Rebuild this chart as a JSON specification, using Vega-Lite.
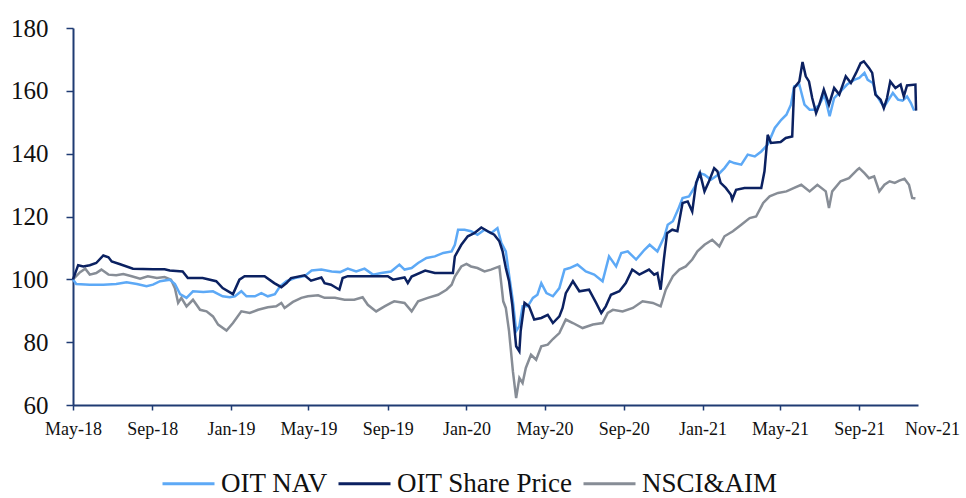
{
"$schema": "https://vega.github.io/schema/vega-lite/v6.json",
"width": 845, "height": 377,
"autosize": {"type": "none"},
"padding": {"left": 73, "top": 28, "right": 48, "bottom": 93},
"background": "white",
"config": {"view": {"stroke": null}, "font": "Liberation Serif"},
"data": {"values": [
{"series":"NSCI&AIM","date":"2018-05-01","value":100.0},{"series":"NSCI&AIM","date":"2018-05-12","value":102.3},{"series":"NSCI&AIM","date":"2018-05-20","value":103.4},{"series":"NSCI&AIM","date":"2018-05-27","value":101.5},{"series":"NSCI&AIM","date":"2018-06-06","value":102.0},{"series":"NSCI&AIM","date":"2018-06-14","value":103.1},{"series":"NSCI&AIM","date":"2018-06-25","value":101.5},{"series":"NSCI&AIM","date":"2018-07-07","value":101.3},{"series":"NSCI&AIM","date":"2018-07-18","value":101.7},{"series":"NSCI&AIM","date":"2018-07-31","value":101.0},{"series":"NSCI&AIM","date":"2018-08-13","value":100.2},{"series":"NSCI&AIM","date":"2018-08-25","value":101.0},{"series":"NSCI&AIM","date":"2018-09-08","value":100.4},{"series":"NSCI&AIM","date":"2018-09-20","value":100.7},{"series":"NSCI&AIM","date":"2018-09-30","value":99.9},{"series":"NSCI&AIM","date":"2018-10-06","value":97.2},{"series":"NSCI&AIM","date":"2018-10-11","value":92.5},{"series":"NSCI&AIM","date":"2018-10-16","value":94.1},{"series":"NSCI&AIM","date":"2018-10-24","value":91.4},{"series":"NSCI&AIM","date":"2018-11-03","value":93.5},{"series":"NSCI&AIM","date":"2018-11-14","value":90.3},{"series":"NSCI&AIM","date":"2018-11-24","value":89.8},{"series":"NSCI&AIM","date":"2018-12-04","value":88.2},{"series":"NSCI&AIM","date":"2018-12-12","value":85.6},{"series":"NSCI&AIM","date":"2018-12-25","value":83.7},{"series":"NSCI&AIM","date":"2019-01-04","value":86.1},{"series":"NSCI&AIM","date":"2019-01-17","value":89.8},{"series":"NSCI&AIM","date":"2019-01-30","value":89.3},{"series":"NSCI&AIM","date":"2019-02-12","value":90.3},{"series":"NSCI&AIM","date":"2019-02-27","value":91.1},{"series":"NSCI&AIM","date":"2019-03-12","value":91.4},{"series":"NSCI&AIM","date":"2019-03-20","value":92.5},{"series":"NSCI&AIM","date":"2019-03-25","value":90.9},{"series":"NSCI&AIM","date":"2019-04-07","value":92.8},{"series":"NSCI&AIM","date":"2019-04-20","value":94.1},{"series":"NSCI&AIM","date":"2019-04-30","value":94.6},{"series":"NSCI&AIM","date":"2019-05-16","value":94.9},{"series":"NSCI&AIM","date":"2019-05-26","value":94.1},{"series":"NSCI&AIM","date":"2019-06-11","value":94.1},{"series":"NSCI&AIM","date":"2019-06-26","value":93.5},{"series":"NSCI&AIM","date":"2019-07-11","value":93.5},{"series":"NSCI&AIM","date":"2019-07-24","value":94.3},{"series":"NSCI&AIM","date":"2019-08-01","value":91.9},{"series":"NSCI&AIM","date":"2019-08-14","value":89.8},{"series":"NSCI&AIM","date":"2019-08-27","value":91.4},{"series":"NSCI&AIM","date":"2019-09-06","value":92.5},{"series":"NSCI&AIM","date":"2019-09-11","value":93.0},{"series":"NSCI&AIM","date":"2019-09-27","value":92.5},{"series":"NSCI&AIM","date":"2019-10-08","value":89.8},{"series":"NSCI&AIM","date":"2019-10-18","value":93.0},{"series":"NSCI&AIM","date":"2019-11-02","value":94.1},{"series":"NSCI&AIM","date":"2019-11-18","value":95.1},{"series":"NSCI&AIM","date":"2019-12-01","value":96.7},{"series":"NSCI&AIM","date":"2019-12-09","value":98.3},{"series":"NSCI&AIM","date":"2019-12-14","value":100.9},{"series":"NSCI&AIM","date":"2019-12-24","value":104.1},{"series":"NSCI&AIM","date":"2020-01-01","value":104.9},{"series":"NSCI&AIM","date":"2020-01-08","value":104.1},{"series":"NSCI&AIM","date":"2020-01-18","value":103.6},{"series":"NSCI&AIM","date":"2020-01-29","value":102.5},{"series":"NSCI&AIM","date":"2020-02-08","value":103.1},{"series":"NSCI&AIM","date":"2020-02-21","value":104.1},{"series":"NSCI&AIM","date":"2020-02-27","value":93.0},{"series":"NSCI&AIM","date":"2020-03-02","value":90.9},{"series":"NSCI&AIM","date":"2020-03-07","value":83.5},{"series":"NSCI&AIM","date":"2020-03-13","value":70.7},{"series":"NSCI&AIM","date":"2020-03-18","value":62.2},{"series":"NSCI&AIM","date":"2020-03-23","value":68.6},{"series":"NSCI&AIM","date":"2020-03-28","value":67.0},{"series":"NSCI&AIM","date":"2020-04-02","value":71.8},{"series":"NSCI&AIM","date":"2020-04-10","value":76.0},{"series":"NSCI&AIM","date":"2020-04-18","value":74.4},{"series":"NSCI&AIM","date":"2020-04-26","value":78.7},{"series":"NSCI&AIM","date":"2020-05-06","value":79.2},{"series":"NSCI&AIM","date":"2020-05-14","value":81.0},{"series":"NSCI&AIM","date":"2020-05-24","value":82.9},{"series":"NSCI&AIM","date":"2020-06-03","value":87.2},{"series":"NSCI&AIM","date":"2020-06-14","value":86.1},{"series":"NSCI&AIM","date":"2020-06-29","value":84.5},{"series":"NSCI&AIM","date":"2020-07-15","value":85.6},{"series":"NSCI&AIM","date":"2020-07-30","value":86.1},{"series":"NSCI&AIM","date":"2020-08-07","value":89.3},{"series":"NSCI&AIM","date":"2020-08-15","value":90.3},{"series":"NSCI&AIM","date":"2020-08-30","value":89.8},{"series":"NSCI&AIM","date":"2020-09-15","value":90.9},{"series":"NSCI&AIM","date":"2020-09-30","value":93.0},{"series":"NSCI&AIM","date":"2020-10-16","value":92.5},{"series":"NSCI&AIM","date":"2020-10-28","value":91.4},{"series":"NSCI&AIM","date":"2020-11-05","value":96.7},{"series":"NSCI&AIM","date":"2020-11-16","value":101.0},{"series":"NSCI&AIM","date":"2020-11-26","value":103.1},{"series":"NSCI&AIM","date":"2020-12-06","value":104.1},{"series":"NSCI&AIM","date":"2020-12-16","value":106.3},{"series":"NSCI&AIM","date":"2020-12-24","value":108.9},{"series":"NSCI&AIM","date":"2021-01-04","value":111.0},{"series":"NSCI&AIM","date":"2021-01-16","value":112.6},{"series":"NSCI&AIM","date":"2021-01-27","value":110.5},{"series":"NSCI&AIM","date":"2021-02-04","value":113.7},{"series":"NSCI&AIM","date":"2021-02-17","value":115.3},{"series":"NSCI&AIM","date":"2021-03-02","value":117.4},{"series":"NSCI&AIM","date":"2021-03-15","value":119.5},{"series":"NSCI&AIM","date":"2021-03-25","value":120.0},{"series":"NSCI&AIM","date":"2021-04-05","value":124.3},{"series":"NSCI&AIM","date":"2021-04-15","value":126.4},{"series":"NSCI&AIM","date":"2021-04-28","value":127.5},{"series":"NSCI&AIM","date":"2021-05-11","value":128.0},{"series":"NSCI&AIM","date":"2021-05-23","value":129.1},{"series":"NSCI&AIM","date":"2021-06-03","value":130.1},{"series":"NSCI&AIM","date":"2021-06-16","value":128.0},{"series":"NSCI&AIM","date":"2021-06-28","value":130.1},{"series":"NSCI&AIM","date":"2021-07-11","value":128.0},{"series":"NSCI&AIM","date":"2021-07-16","value":122.7},{"series":"NSCI&AIM","date":"2021-07-21","value":128.0},{"series":"NSCI&AIM","date":"2021-08-03","value":131.2},{"series":"NSCI&AIM","date":"2021-08-16","value":132.2},{"series":"NSCI&AIM","date":"2021-08-29","value":134.9},{"series":"NSCI&AIM","date":"2021-09-01","value":135.4},{"series":"NSCI&AIM","date":"2021-09-09","value":133.8},{"series":"NSCI&AIM","date":"2021-09-16","value":132.2},{"series":"NSCI&AIM","date":"2021-09-24","value":132.8},{"series":"NSCI&AIM","date":"2021-10-02","value":128.0},{"series":"NSCI&AIM","date":"2021-10-10","value":130.1},{"series":"NSCI&AIM","date":"2021-10-18","value":131.2},{"series":"NSCI&AIM","date":"2021-10-26","value":130.7},{"series":"NSCI&AIM","date":"2021-11-02","value":131.4},{"series":"NSCI&AIM","date":"2021-11-10","value":132.0},{"series":"NSCI&AIM","date":"2021-11-17","value":130.1},{"series":"NSCI&AIM","date":"2021-11-22","value":125.9},{"series":"NSCI&AIM","date":"2021-11-27","value":125.7},
{"series":"OIT NAV","date":"2018-05-01","value":100.0},{"series":"OIT NAV","date":"2018-05-06","value":98.5},{"series":"OIT NAV","date":"2018-05-27","value":98.3},{"series":"OIT NAV","date":"2018-06-17","value":98.3},{"series":"OIT NAV","date":"2018-07-07","value":98.5},{"series":"OIT NAV","date":"2018-07-23","value":99.1},{"series":"OIT NAV","date":"2018-08-08","value":98.5},{"series":"OIT NAV","date":"2018-08-23","value":97.8},{"series":"OIT NAV","date":"2018-09-02","value":98.3},{"series":"OIT NAV","date":"2018-09-13","value":99.4},{"series":"OIT NAV","date":"2018-09-28","value":99.9},{"series":"OIT NAV","date":"2018-10-06","value":98.5},{"series":"OIT NAV","date":"2018-10-14","value":95.3},{"series":"OIT NAV","date":"2018-10-24","value":94.1},{"series":"OIT NAV","date":"2018-11-03","value":96.2},{"series":"OIT NAV","date":"2018-11-19","value":96.0},{"series":"OIT NAV","date":"2018-12-04","value":96.2},{"series":"OIT NAV","date":"2018-12-19","value":94.6},{"series":"OIT NAV","date":"2018-12-30","value":94.3},{"series":"OIT NAV","date":"2019-01-07","value":94.6},{"series":"OIT NAV","date":"2019-01-17","value":96.2},{"series":"OIT NAV","date":"2019-01-25","value":94.6},{"series":"OIT NAV","date":"2019-02-07","value":94.6},{"series":"OIT NAV","date":"2019-02-17","value":95.6},{"series":"OIT NAV","date":"2019-02-27","value":94.6},{"series":"OIT NAV","date":"2019-03-10","value":95.3},{"series":"OIT NAV","date":"2019-03-18","value":97.8},{"series":"OIT NAV","date":"2019-03-28","value":99.4},{"series":"OIT NAV","date":"2019-04-10","value":100.4},{"series":"OIT NAV","date":"2019-04-25","value":101.0},{"series":"OIT NAV","date":"2019-05-06","value":102.8},{"series":"OIT NAV","date":"2019-05-21","value":103.1},{"series":"OIT NAV","date":"2019-06-06","value":102.5},{"series":"OIT NAV","date":"2019-06-19","value":102.3},{"series":"OIT NAV","date":"2019-07-01","value":103.4},{"series":"OIT NAV","date":"2019-07-14","value":102.5},{"series":"OIT NAV","date":"2019-07-27","value":103.4},{"series":"OIT NAV","date":"2019-08-09","value":101.5},{"series":"OIT NAV","date":"2019-08-22","value":102.0},{"series":"OIT NAV","date":"2019-09-06","value":102.5},{"series":"OIT NAV","date":"2019-09-19","value":104.7},{"series":"OIT NAV","date":"2019-09-27","value":103.1},{"series":"OIT NAV","date":"2019-10-08","value":103.6},{"series":"OIT NAV","date":"2019-10-18","value":105.2},{"series":"OIT NAV","date":"2019-10-31","value":106.8},{"series":"OIT NAV","date":"2019-11-13","value":107.3},{"series":"OIT NAV","date":"2019-11-26","value":108.4},{"series":"OIT NAV","date":"2019-12-09","value":108.9},{"series":"OIT NAV","date":"2019-12-14","value":111.0},{"series":"OIT NAV","date":"2019-12-19","value":115.8},{"series":"OIT NAV","date":"2019-12-29","value":115.8},{"series":"OIT NAV","date":"2020-01-08","value":115.3},{"series":"OIT NAV","date":"2020-01-18","value":114.2},{"series":"OIT NAV","date":"2020-01-29","value":115.8},{"series":"OIT NAV","date":"2020-02-08","value":114.7},{"series":"OIT NAV","date":"2020-02-18","value":116.3},{"series":"OIT NAV","date":"2020-02-24","value":111.6},{"series":"OIT NAV","date":"2020-03-02","value":108.9},{"series":"OIT NAV","date":"2020-03-07","value":101.5},{"series":"OIT NAV","date":"2020-03-13","value":93.0},{"series":"OIT NAV","date":"2020-03-18","value":83.5},{"series":"OIT NAV","date":"2020-03-23","value":85.1},{"series":"OIT NAV","date":"2020-03-28","value":91.4},{"series":"OIT NAV","date":"2020-04-05","value":91.4},{"series":"OIT NAV","date":"2020-04-13","value":94.1},{"series":"OIT NAV","date":"2020-04-20","value":95.1},{"series":"OIT NAV","date":"2020-04-26","value":98.8},{"series":"OIT NAV","date":"2020-05-04","value":95.6},{"series":"OIT NAV","date":"2020-05-14","value":94.6},{"series":"OIT NAV","date":"2020-05-24","value":97.2},{"series":"OIT NAV","date":"2020-06-01","value":103.1},{"series":"OIT NAV","date":"2020-06-09","value":103.6},{"series":"OIT NAV","date":"2020-06-21","value":104.7},{"series":"OIT NAV","date":"2020-07-04","value":102.5},{"series":"OIT NAV","date":"2020-07-17","value":101.5},{"series":"OIT NAV","date":"2020-07-30","value":99.4},{"series":"OIT NAV","date":"2020-08-09","value":107.3},{"series":"OIT NAV","date":"2020-08-20","value":104.1},{"series":"OIT NAV","date":"2020-08-28","value":108.4},{"series":"OIT NAV","date":"2020-09-07","value":108.9},{"series":"OIT NAV","date":"2020-09-20","value":106.3},{"series":"OIT NAV","date":"2020-10-03","value":109.4},{"series":"OIT NAV","date":"2020-10-11","value":111.0},{"series":"OIT NAV","date":"2020-10-23","value":108.9},{"series":"OIT NAV","date":"2020-11-03","value":113.7},{"series":"OIT NAV","date":"2020-11-08","value":117.4},{"series":"OIT NAV","date":"2020-11-16","value":118.5},{"series":"OIT NAV","date":"2020-11-24","value":122.2},{"series":"OIT NAV","date":"2020-12-01","value":125.9},{"series":"OIT NAV","date":"2020-12-11","value":126.4},{"series":"OIT NAV","date":"2020-12-22","value":130.1},{"series":"OIT NAV","date":"2020-12-27","value":133.8},{"series":"OIT NAV","date":"2021-01-04","value":133.3},{"series":"OIT NAV","date":"2021-01-14","value":131.7},{"series":"OIT NAV","date":"2021-01-25","value":133.3},{"series":"OIT NAV","date":"2021-02-04","value":135.4},{"series":"OIT NAV","date":"2021-02-12","value":137.6},{"series":"OIT NAV","date":"2021-02-19","value":137.0},{"series":"OIT NAV","date":"2021-03-02","value":136.5},{"series":"OIT NAV","date":"2021-03-12","value":139.7},{"series":"OIT NAV","date":"2021-03-23","value":139.1},{"series":"OIT NAV","date":"2021-04-02","value":140.7},{"series":"OIT NAV","date":"2021-04-12","value":142.9},{"series":"OIT NAV","date":"2021-04-23","value":148.2},{"series":"OIT NAV","date":"2021-05-03","value":150.8},{"series":"OIT NAV","date":"2021-05-11","value":152.4},{"series":"OIT NAV","date":"2021-05-18","value":155.6},{"series":"OIT NAV","date":"2021-05-23","value":161.4},{"series":"OIT NAV","date":"2021-05-31","value":162.0},{"series":"OIT NAV","date":"2021-06-08","value":155.6},{"series":"OIT NAV","date":"2021-06-16","value":154.0},{"series":"OIT NAV","date":"2021-06-23","value":154.0},{"series":"OIT NAV","date":"2021-07-01","value":155.6},{"series":"OIT NAV","date":"2021-07-09","value":158.8},{"series":"OIT NAV","date":"2021-07-17","value":151.9},{"series":"OIT NAV","date":"2021-07-24","value":157.7},{"series":"OIT NAV","date":"2021-08-03","value":159.8},{"series":"OIT NAV","date":"2021-08-13","value":162.0},{"series":"OIT NAV","date":"2021-08-24","value":163.5},{"series":"OIT NAV","date":"2021-09-01","value":164.1},{"series":"OIT NAV","date":"2021-09-09","value":165.7},{"series":"OIT NAV","date":"2021-09-14","value":163.5},{"series":"OIT NAV","date":"2021-09-22","value":162.5},{"series":"OIT NAV","date":"2021-09-27","value":158.8},{"series":"OIT NAV","date":"2021-10-05","value":156.1},{"series":"OIT NAV","date":"2021-10-10","value":155.1},{"series":"OIT NAV","date":"2021-10-18","value":157.7},{"series":"OIT NAV","date":"2021-10-23","value":159.3},{"series":"OIT NAV","date":"2021-10-31","value":157.2},{"series":"OIT NAV","date":"2021-11-07","value":156.9},{"series":"OIT NAV","date":"2021-11-14","value":158.2},{"series":"OIT NAV","date":"2021-11-20","value":156.1},{"series":"OIT NAV","date":"2021-11-25","value":153.7},
{"series":"OIT Share Price","date":"2018-05-01","value":100.0},{"series":"OIT Share Price","date":"2018-05-09","value":104.5},{"series":"OIT Share Price","date":"2018-05-17","value":104.1},{"series":"OIT Share Price","date":"2018-05-27","value":104.5},{"series":"OIT Share Price","date":"2018-06-06","value":105.2},{"series":"OIT Share Price","date":"2018-06-17","value":107.6},{"series":"OIT Share Price","date":"2018-06-25","value":107.0},{"series":"OIT Share Price","date":"2018-06-30","value":105.7},{"series":"OIT Share Price","date":"2018-07-12","value":104.9},{"series":"OIT Share Price","date":"2018-08-02","value":103.4},{"series":"OIT Share Price","date":"2018-09-02","value":103.2},{"series":"OIT Share Price","date":"2018-09-20","value":103.2},{"series":"OIT Share Price","date":"2018-09-28","value":102.8},{"series":"OIT Share Price","date":"2018-10-18","value":102.5},{"series":"OIT Share Price","date":"2018-10-26","value":100.4},{"series":"OIT Share Price","date":"2018-11-18","value":100.4},{"series":"OIT Share Price","date":"2018-12-09","value":99.4},{"series":"OIT Share Price","date":"2018-12-19","value":97.2},{"series":"OIT Share Price","date":"2019-01-04","value":95.3},{"series":"OIT Share Price","date":"2019-01-14","value":99.9},{"series":"OIT Share Price","date":"2019-01-22","value":101.0},{"series":"OIT Share Price","date":"2019-02-22","value":101.0},{"series":"OIT Share Price","date":"2019-03-09","value":98.8},{"series":"OIT Share Price","date":"2019-03-20","value":97.5},{"series":"OIT Share Price","date":"2019-03-28","value":98.8},{"series":"OIT Share Price","date":"2019-04-04","value":100.4},{"series":"OIT Share Price","date":"2019-04-25","value":101.3},{"series":"OIT Share Price","date":"2019-05-05","value":99.6},{"series":"OIT Share Price","date":"2019-05-21","value":100.6},{"series":"OIT Share Price","date":"2019-05-26","value":98.8},{"series":"OIT Share Price","date":"2019-06-05","value":98.3},{"series":"OIT Share Price","date":"2019-06-18","value":96.7},{"series":"OIT Share Price","date":"2019-06-23","value":100.4},{"series":"OIT Share Price","date":"2019-07-01","value":101.0},{"series":"OIT Share Price","date":"2019-07-27","value":101.0},{"series":"OIT Share Price","date":"2019-09-01","value":101.0},{"series":"OIT Share Price","date":"2019-09-09","value":99.9},{"series":"OIT Share Price","date":"2019-09-27","value":100.6},{"series":"OIT Share Price","date":"2019-10-02","value":98.8},{"series":"OIT Share Price","date":"2019-10-08","value":100.9},{"series":"OIT Share Price","date":"2019-10-29","value":102.8},{"series":"OIT Share Price","date":"2019-11-13","value":102.0},{"series":"OIT Share Price","date":"2019-12-11","value":102.0},{"series":"OIT Share Price","date":"2019-12-14","value":107.3},{"series":"OIT Share Price","date":"2019-12-24","value":111.0},{"series":"OIT Share Price","date":"2020-01-03","value":113.7},{"series":"OIT Share Price","date":"2020-01-13","value":114.7},{"series":"OIT Share Price","date":"2020-01-24","value":116.5},{"series":"OIT Share Price","date":"2020-02-03","value":115.3},{"series":"OIT Share Price","date":"2020-02-13","value":114.2},{"series":"OIT Share Price","date":"2020-02-21","value":112.1},{"series":"OIT Share Price","date":"2020-02-26","value":108.9},{"series":"OIT Share Price","date":"2020-03-02","value":103.6},{"series":"OIT Share Price","date":"2020-03-07","value":99.4},{"series":"OIT Share Price","date":"2020-03-12","value":91.9},{"series":"OIT Share Price","date":"2020-03-18","value":78.7},{"series":"OIT Share Price","date":"2020-03-23","value":77.1},{"series":"OIT Share Price","date":"2020-03-25","value":83.5},{"series":"OIT Share Price","date":"2020-03-31","value":92.5},{"series":"OIT Share Price","date":"2020-04-07","value":91.4},{"series":"OIT Share Price","date":"2020-04-15","value":87.2},{"series":"OIT Share Price","date":"2020-04-26","value":87.7},{"series":"OIT Share Price","date":"2020-05-06","value":88.7},{"series":"OIT Share Price","date":"2020-05-14","value":86.1},{"series":"OIT Share Price","date":"2020-05-24","value":88.2},{"series":"OIT Share Price","date":"2020-05-29","value":90.9},{"series":"OIT Share Price","date":"2020-06-03","value":95.6},{"series":"OIT Share Price","date":"2020-06-14","value":99.4},{"series":"OIT Share Price","date":"2020-06-24","value":96.2},{"series":"OIT Share Price","date":"2020-07-09","value":96.7},{"series":"OIT Share Price","date":"2020-07-20","value":92.5},{"series":"OIT Share Price","date":"2020-07-28","value":89.3},{"series":"OIT Share Price","date":"2020-08-04","value":91.4},{"series":"OIT Share Price","date":"2020-08-12","value":95.1},{"series":"OIT Share Price","date":"2020-08-25","value":96.2},{"series":"OIT Share Price","date":"2020-09-04","value":98.8},{"series":"OIT Share Price","date":"2020-09-14","value":103.1},{"series":"OIT Share Price","date":"2020-09-25","value":101.5},{"series":"OIT Share Price","date":"2020-10-10","value":103.1},{"series":"OIT Share Price","date":"2020-10-18","value":101.5},{"series":"OIT Share Price","date":"2020-10-23","value":102.0},{"series":"OIT Share Price","date":"2020-10-28","value":96.7},{"series":"OIT Share Price","date":"2020-11-02","value":106.3},{"series":"OIT Share Price","date":"2020-11-07","value":114.7},{"series":"OIT Share Price","date":"2020-11-15","value":115.8},{"series":"OIT Share Price","date":"2020-11-23","value":115.3},{"series":"OIT Share Price","date":"2020-12-01","value":124.3},{"series":"OIT Share Price","date":"2020-12-09","value":124.8},{"series":"OIT Share Price","date":"2020-12-16","value":121.6},{"series":"OIT Share Price","date":"2020-12-22","value":130.7},{"series":"OIT Share Price","date":"2020-12-28","value":133.8},{"series":"OIT Share Price","date":"2021-01-04","value":128.0},{"series":"OIT Share Price","date":"2021-01-11","value":131.2},{"series":"OIT Share Price","date":"2021-01-19","value":135.4},{"series":"OIT Share Price","date":"2021-01-24","value":134.4},{"series":"OIT Share Price","date":"2021-01-29","value":130.7},{"series":"OIT Share Price","date":"2021-02-06","value":129.1},{"series":"OIT Share Price","date":"2021-02-14","value":126.9},{"series":"OIT Share Price","date":"2021-02-16","value":125.4},{"series":"OIT Share Price","date":"2021-02-22","value":128.5},{"series":"OIT Share Price","date":"2021-03-07","value":129.1},{"series":"OIT Share Price","date":"2021-04-02","value":129.1},{"series":"OIT Share Price","date":"2021-04-07","value":134.4},{"series":"OIT Share Price","date":"2021-04-12","value":146.0},{"series":"OIT Share Price","date":"2021-04-17","value":143.4},{"series":"OIT Share Price","date":"2021-05-02","value":143.7},{"series":"OIT Share Price","date":"2021-05-10","value":145.0},{"series":"OIT Share Price","date":"2021-05-20","value":145.5},{"series":"OIT Share Price","date":"2021-05-23","value":160.9},{"series":"OIT Share Price","date":"2021-05-31","value":163.0},{"series":"OIT Share Price","date":"2021-06-05","value":169.2},{"series":"OIT Share Price","date":"2021-06-10","value":164.6},{"series":"OIT Share Price","date":"2021-06-15","value":163.0},{"series":"OIT Share Price","date":"2021-06-20","value":157.7},{"series":"OIT Share Price","date":"2021-06-26","value":152.9},{"series":"OIT Share Price","date":"2021-07-01","value":155.6},{"series":"OIT Share Price","date":"2021-07-08","value":160.4},{"series":"OIT Share Price","date":"2021-07-16","value":155.6},{"series":"OIT Share Price","date":"2021-07-24","value":160.9},{"series":"OIT Share Price","date":"2021-08-01","value":158.8},{"series":"OIT Share Price","date":"2021-08-11","value":164.6},{"series":"OIT Share Price","date":"2021-08-19","value":162.5},{"series":"OIT Share Price","date":"2021-08-27","value":165.7},{"series":"OIT Share Price","date":"2021-09-03","value":168.8},{"series":"OIT Share Price","date":"2021-09-08","value":169.4},{"series":"OIT Share Price","date":"2021-09-16","value":167.3},{"series":"OIT Share Price","date":"2021-09-21","value":165.7},{"series":"OIT Share Price","date":"2021-09-26","value":158.8},{"series":"OIT Share Price","date":"2021-10-04","value":157.2},{"series":"OIT Share Price","date":"2021-10-09","value":154.5},{"series":"OIT Share Price","date":"2021-10-14","value":157.7},{"series":"OIT Share Price","date":"2021-10-19","value":163.0},{"series":"OIT Share Price","date":"2021-10-27","value":160.9},{"series":"OIT Share Price","date":"2021-11-04","value":162.0},{"series":"OIT Share Price","date":"2021-11-09","value":158.2},{"series":"OIT Share Price","date":"2021-11-14","value":161.7},{"series":"OIT Share Price","date":"2021-11-27","value":162.0},{"series":"OIT Share Price","date":"2021-11-28","value":153.7}
]},
"mark": {"type": "line", "strokeWidth": 2.5},
"encoding": {
 "x": {"field": "date", "type": "temporal",
  "scale": {"type": "utc", "domain": [{"year": 2018, "month": 5, "date": 1, "utc": true}, {"year": 2021, "month": 12, "date": 1, "utc": true}]},
  "axis": {"title": null, "grid": false,
   "values": [{"year": 2018, "month": 5, "date": 1, "utc": true}, {"year": 2018, "month": 9, "date": 1, "utc": true}, {"year": 2019, "month": 1, "date": 1, "utc": true}, {"year": 2019, "month": 5, "date": 1, "utc": true}, {"year": 2019, "month": 9, "date": 1, "utc": true}, {"year": 2020, "month": 1, "date": 1, "utc": true}, {"year": 2020, "month": 5, "date": 1, "utc": true}, {"year": 2020, "month": 9, "date": 1, "utc": true}, {"year": 2021, "month": 1, "date": 1, "utc": true}, {"year": 2021, "month": 5, "date": 1, "utc": true}, {"year": 2021, "month": 9, "date": 1, "utc": true}, {"year": 2021, "month": 12, "date": 1, "utc": true}],
   "labelExpr": "datum.value >= 1637000000000 ? 'Nov-21' : utcFormat(datum.value, '%b-%y')",
   "tickColor": {"condition": {"test": "datum.value >= 1637000000000", "value": "transparent"}, "value": "#1F3B73"},
   "labelOffset": {"condition": {"test": "datum.value >= 1637000000000", "value": 14}, "value": 0},
   "domainColor": "#1F3B73", "domainWidth": 2, "tickWidth": 1.5, "tickSize": 5,
   "labelFont": "Liberation Serif", "labelFontSize": 18, "labelColor": "#111111", "labelPadding": 10,
   "labelFlush": false, "labelOverlap": false, "labelBound": false}},
 "y": {"field": "value", "type": "quantitative",
  "scale": {"domain": [60, 180], "nice": false, "zero": false},
  "axis": {"title": null, "grid": false, "values": [60, 80, 100, 120, 140, 160, 180],
   "domainColor": "#1F3B73", "domainWidth": 2, "tickColor": "#1F3B73", "tickWidth": 1.5, "tickSize": 7,
   "labelFont": "Liberation Serif", "labelFontSize": 25, "labelColor": "#111111", "labelPadding": 18}},
 "color": {"field": "series", "type": "nominal",
  "scale": {"domain": ["OIT NAV", "OIT Share Price", "NSCI&AIM"], "range": ["#5DA9F6", "#0B2161", "#878D96"]},
  "legend": {"orient": "none", "legendX": 88, "legendY": 428, "direction": "horizontal", "title": null,
   "symbolType": "stroke", "symbolSize": 2704, "symbolStrokeWidth": 3,
   "labelFont": "Liberation Serif", "labelFontSize": 27, "labelColor": "#111111", "labelOffset": 5, "columnPadding": 4, "labelLimit": 400}}
}
}
